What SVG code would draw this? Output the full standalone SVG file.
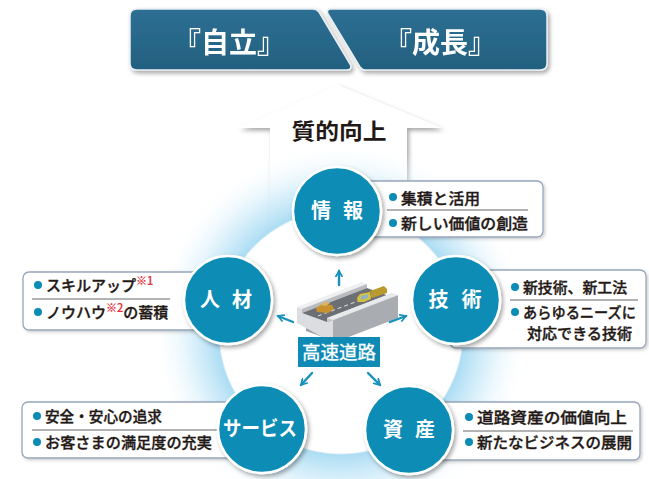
<svg xmlns="http://www.w3.org/2000/svg" width="649" height="479" viewBox="0 0 649 479">
<style>
  .jp{font-family:"Noto Sans CJK JP","Noto Sans CJK SC",sans-serif}
  .item{font-size:15px;fill:#231815;font-weight:500;stroke:#231815;stroke-width:0.35}
  .ctext{font-size:20px;font-weight:bold;fill:#fff}
  .title{font-size:28px;font-weight:bold;fill:#fff}
  .box{fill:#fff;stroke:#97a6ba;stroke-width:1.3}
  .sep{stroke:#9a9a9a;stroke-width:1.5}
  .dot{fill:#0b8cb5;stroke:none}
  .node{fill:#0b8cb5;stroke:#fff;stroke-width:2.5}
  .ar{fill:none;stroke:#1591bb;stroke-width:2.4;stroke-linecap:round}
  .note{font-size:11px;fill:#e8303a;stroke:#e8303a;stroke-width:0.2}
</style>
<defs>
  <filter id="sh" x="-20%" y="-20%" width="150%" height="150%">
    <feDropShadow dx="2" dy="2.5" stdDeviation="2" flood-color="#000" flood-opacity="0.35"/>
  </filter>
  <filter id="shs" x="-20%" y="-20%" width="150%" height="150%">
    <feDropShadow dx="1.5" dy="1.5" stdDeviation="1.5" flood-color="#000" flood-opacity="0.2"/>
  </filter>
  <radialGradient id="glow" cx="341" cy="332" r="190" gradientUnits="userSpaceOnUse">
    <stop offset="0" stop-color="#fff"/>
    <stop offset="0.637" stop-color="#fff"/>
    <stop offset="0.647" stop-color="#a8dbf3" stop-opacity="0.95"/>
    <stop offset="0.78" stop-color="#cdebf9" stop-opacity="0.75"/>
    <stop offset="1" stop-color="#fff" stop-opacity="0"/>
  </radialGradient>
  <linearGradient id="ban" x1="0" y1="0" x2="0" y2="1">
    <stop offset="0" stop-color="#2d6f93"/>
    <stop offset="1" stop-color="#23607f"/>
  </linearGradient>
  <marker id="ah" viewBox="0 0 10 10" refX="8" refY="5" markerWidth="8" markerHeight="8" markerUnits="userSpaceOnUse" orient="auto">
    <path d="M1,1 L8,5 L1,9" fill="none" stroke="#1591bb" stroke-width="2.2" stroke-linecap="round"/>
  </marker>
</defs>
<rect width="649" height="479" fill="#fff"/>

<!-- banner -->
<g id="banner" filter="url(#sh)">
  <g id="jiritsu">
    <path d="M137,9 H313 Q317,9 319,12 L350,64 Q353,70 346,70 H137 Q130,70 130,63 V16 Q130,9 137,9 Z" fill="url(#ban)" stroke="#e8eef3" stroke-width="1.5"/>
    <text class="jp title" x="229" y="53" text-anchor="middle">『自立』</text>
  </g>
  <g id="seichou">
    <path d="M331,9 H540 Q547,9 547,16 V63 Q547,70 540,70 H366 Q362,70 360,67 L328,14 Q326,9 331,9 Z" fill="url(#ban)" stroke="#e8eef3" stroke-width="1.5"/>
    <text class="jp title" x="440" y="53" text-anchor="middle">『成長』</text>
  </g>
</g>

<!-- arrow -->
<g id="quality">
  <path d="M338,85 L442,128 H407 V250 H270 V128 H238 Z" fill="#fff" filter="url(#sh)"/>
  <text class="jp" x="339" y="139" text-anchor="middle" font-size="22" font-weight="bold" fill="#231815" textLength="95" lengthAdjust="spacingAndGlyphs">質的向上</text>
</g>

<!-- glow -->
<circle cx="341" cy="332" r="190" fill="url(#glow)"/>

<!-- info boxes -->
<g id="box-info" filter="url(#shs)">
  <rect class="box" x="330" y="181" width="213" height="56" rx="6"/>
</g>
<g id="box-hr" filter="url(#shs)">
  <rect class="box" x="23" y="272" width="205" height="58" rx="6"/>
</g>
<g id="box-tech" filter="url(#shs)">
  <rect class="box" x="450" y="270" width="196" height="78" rx="6"/>
</g>
<g id="box-service" filter="url(#shs)">
  <rect class="box" x="22" y="402" width="235" height="56" rx="6"/>
</g>
<g id="box-asset" filter="url(#shs)">
  <rect class="box" x="415" y="402" width="225" height="58" rx="6"/>
</g>

<!-- box contents -->
<g id="text-info" class="jp item">
  <circle class="dot" cx="393" cy="197" r="4"/>
  <text x="401" y="203.5" textLength="79" lengthAdjust="spacingAndGlyphs">集積と活用</text>
  <line class="sep" x1="387" y1="210" x2="528" y2="210"/>
  <circle class="dot" cx="393" cy="223" r="4"/>
  <text x="401" y="228.5" textLength="127" lengthAdjust="spacingAndGlyphs">新しい価値の創造</text>
</g>
<g id="text-hr" class="jp item">
  <circle class="dot" cx="38" cy="285" r="4"/>
  <text x="46" y="290.5">スキルアップ<tspan class="note" dy="-6">※1</tspan></text>
  <line class="sep" x1="32" y1="299" x2="170" y2="299"/>
  <circle class="dot" cx="38" cy="312" r="4"/>
  <text x="46" y="317.5">ノウハウ<tspan class="note" dy="-6">※2</tspan><tspan dy="6">の蓄積</tspan></text>
</g>
<g id="text-tech" class="jp item">
  <circle class="dot" cx="515" cy="287" r="4"/>
  <text x="523" y="292.5" textLength="104" lengthAdjust="spacingAndGlyphs">新技術、新工法</text>
  <line class="sep" x1="510" y1="300" x2="638" y2="300"/>
  <circle class="dot" cx="515" cy="312" r="4"/>
  <text x="523" y="317.5" textLength="113" lengthAdjust="spacingAndGlyphs">あらゆるニーズに</text>
  <text x="527" y="338.5" textLength="105" lengthAdjust="spacingAndGlyphs">対応できる技術</text>
</g>
<g id="text-service" class="jp item">
  <circle class="dot" cx="37" cy="416" r="4"/>
  <text x="45" y="421.5" textLength="117" lengthAdjust="spacingAndGlyphs">安全・安心の追求</text>
  <line class="sep" x1="32" y1="430" x2="217" y2="430"/>
  <circle class="dot" cx="37" cy="442" r="4"/>
  <text x="45" y="447.5" textLength="167" lengthAdjust="spacingAndGlyphs">お客さまの満足度の充実</text>
</g>
<g id="text-asset" class="jp item">
  <circle class="dot" cx="469" cy="417" r="4"/>
  <text x="477" y="422.5" textLength="150" lengthAdjust="spacingAndGlyphs">道路資産の価値向上</text>
  <line class="sep" x1="463" y1="431" x2="633" y2="431"/>
  <circle class="dot" cx="469" cy="442" r="4"/>
  <text x="477" y="447.5" textLength="155" lengthAdjust="spacingAndGlyphs">新たなビジネスの展開</text>
</g>

<!-- nodes -->
<g id="node-info">
  <circle class="node" cx="337" cy="211" r="44" filter="url(#sh)"/>
  <text class="jp ctext" x="337" y="218" text-anchor="middle" textLength="52" lengthAdjust="spacing">情 報</text>
</g>
<g id="node-hr">
  <circle class="node" cx="228" cy="300" r="44" filter="url(#sh)"/>
  <text class="jp ctext" x="226" y="307" text-anchor="middle" textLength="52" lengthAdjust="spacing">人 材</text>
</g>
<g id="node-tech">
  <circle class="node" cx="456" cy="300" r="44" filter="url(#sh)"/>
  <text class="jp ctext" x="455" y="307" text-anchor="middle" textLength="53" lengthAdjust="spacing">技 術</text>
</g>
<g id="node-service">
  <circle class="node" cx="262" cy="429" r="44" filter="url(#sh)"/>
  <text class="jp ctext" x="260" y="436" text-anchor="middle" textLength="74" lengthAdjust="spacingAndGlyphs">サービス</text>
</g>
<g id="node-asset">
  <circle class="node" cx="409" cy="430" r="44" filter="url(#sh)"/>
  <text class="jp ctext" x="409" y="437" text-anchor="middle" textLength="52" lengthAdjust="spacing">資 産</text>
</g>

<!-- center highway illustration -->
<g id="highway">
  <polygon points="306,324 331,333 331,340 306,331" fill="#9c9fa4"/>
  <polygon points="333,320 398,295 398,318 333,343" fill="#a9acb0"/>
  <polygon points="297,307 302,309 302,313 327,322 327,318 333,320 333,343 297,323" fill="#dcdde0"/>
  <polygon points="297,307 362,282 367,284 302,309" fill="#eeeff0"/>
  <polygon points="302,309 367,284 367,288 302,313" fill="#b9bbbf"/>
  <polygon points="302,313 367,288 392,297 327,322" fill="#6c6f74"/>
  <polygon points="327,318 392,293 392,297 327,322" fill="#c9cbce"/>
  <polygon points="327,318 392,293 398,295 333,320" fill="#e8e9eb"/>
  <line x1="318" y1="316" x2="382" y2="292" stroke="#fff" stroke-width="0.8" stroke-dasharray="4,3"/>
  <polygon points="316,308 322,304 332,305 334,309 328,313 317,312" fill="#c8912d"/>
  <polygon points="320,305 325,302 330,303 326,306" fill="#e0b45a"/>
  <polygon points="357,298 360,294 370,292 371,299 364,302 358,302" fill="#d6c23a"/>
  <polygon points="361,296 368,294 368,298 361,300" fill="#8fb4c4"/>
  <polygon points="370,291 384,286 387,289 387,293 372,298" fill="#b89a2f"/>
</g>

<!-- connectors -->
<g id="connectors" class="ar">
  <line x1="339" y1="285" x2="339" y2="271" marker-end="url(#ah)"/>
  <line x1="293" y1="322" x2="278" y2="316" marker-end="url(#ah)"/>
  <line x1="390" y1="322" x2="406" y2="316" marker-end="url(#ah)"/>
  <line x1="312" y1="373" x2="301" y2="385" marker-end="url(#ah)"/>
  <line x1="368" y1="373" x2="380" y2="385" marker-end="url(#ah)"/>
</g>

<!-- label -->
<g id="label-highway">
  <rect x="298" y="337" width="82" height="30" fill="#0e8ab5"/>
  <text class="jp" x="339" y="358.5" text-anchor="middle" font-size="18" fill="#fff" stroke="#fff" stroke-width="0.3" textLength="74" lengthAdjust="spacingAndGlyphs">高速道路</text>
</g>
</svg>
